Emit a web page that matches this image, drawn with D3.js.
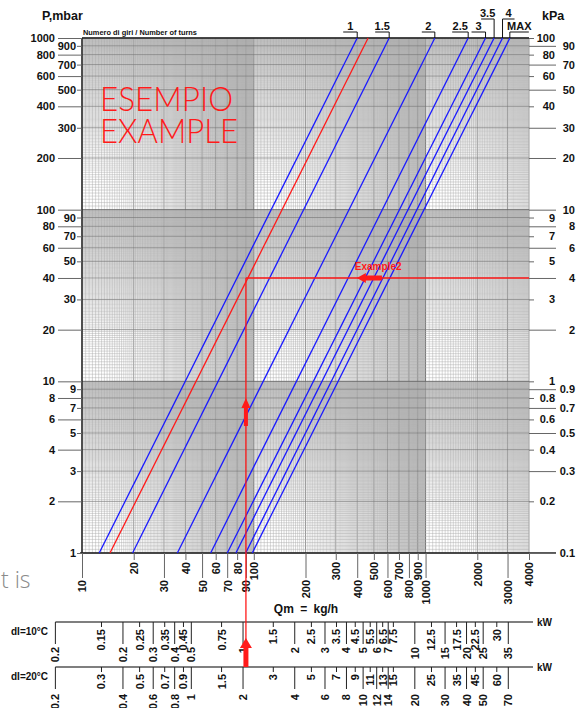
<!DOCTYPE html>
<html>
<head>
<meta charset="utf-8">
<script src="https://cdn.jsdelivr.net/npm/d3@7"></script>
<style>
html, body { margin: 0; padding: 0; background: #fff; }
svg { display: block; font-family: "Liberation Sans", Arial, sans-serif; }
</style>
</head>
<body>
<div id="chart"></div>
<script>
// valve curves: flow (kg/h) read where each line meets 1 mbar and 1000 mbar
var turns = ["1", "1.5", "2", "2.5", "3", "3.5", "4", "MAX"];
var flowAt1mbar = [12.6, 19.7, 35.9, 56.1, 70.1, 78.7, 89.7, 98.0];
var flowAt1000mbar = [400, 614, 1132, 1770, 2234, 2506, 2805, 3094];

// red example curve and the example point
var exampleFlowAt1mbar = 14.55;
var exampleFlowAt1000mbar = 463;
var exampleQ = 90;       // kg/h
var exampleP = 40;       // mbar
var exampleArrowP = [5.5, 8];        // up arrow inside the plot
var example2ArrowQ = [557, 398];     // left arrow on the 40 mbar line

// axis tick labels
var pOuter = [1000, 800, 600, 400, 200, 100, 80, 60, 40, 20, 10, 8, 6, 4, 2];
var pInner = [900, 700, 500, 300, 90, 70, 50, 30, 9, 7, 5, 3, 1];
var kpaOuter = [90, 70, 50, 30, 20, 10, 8, 6, 4, 2, 0.9, 0.7, 0.5, 0.3, 0.1];
var kpaInner = [100, 80, 60, 40, 9, 7, 5, 3, 1, 0.8, 0.6, 0.4, 0.2];
var qUpper = [20, 40, 60, 80, 100, 300, 500, 700, 900, 2000, 4000];
var qLower = [10, 30, 50, 70, 90, 200, 400, 600, 800, 1000, 3000];

// heat power scales (kW) for two temperature differences
var dtNames = ["dI=10°C", "dI=20°C"];
var dtValues = [10, 20];
var kwUpper = [
  [0.15, 0.25, 0.35, 0.45, 0.75, 1.5, 2.5, 3.5, 4.5, 5.5, 6.5, 7.5, 12.5, 17.5, 22.5, 30],
  [0.3, 0.5, 0.7, 0.9, 1.5, 3, 5, 7, 9, 11, 13, 15, 25, 35, 45, 60]
];
var kwLower = [
  [0.2, 0.3, 0.4, 0.5, 1, 2, 3, 4, 5, 6, 7, 10, 15, 20, 25, 35],
  [0.4, 0.6, 0.8, 1, 2, 4, 6, 8, 10, 12, 14, 20, 30, 40, 50, 70]
];
var kwStartLabel = "0.2";
var kwStartQ = 7;
var CP = 4.186 / 3600; // kWh per kg per K

// layout of the turn labels above the plot
var turnLabelLayout = {
  "1":   { row: 0, side: -1, w: 14 },
  "1.5": { row: 0, side: -1, w: 14 },
  "2":   { row: 0, side: -1, w: 13 },
  "2.5": { row: 0, side: -1, w: 16 },
  "3":   { row: 0, side: -1, w: 14 },
  "3.5": { row: 1, side: -1, w: 13 },
  "4":   { row: 1, side: 1,  w: 12 },
  "MAX": { row: 0, side: 1,  w: 19 }
};

var W = 576, H = 708;
var x = d3.scaleLog().domain([10, 4000]).range([82, 529]);
var y = d3.scaleLog().domain([1, 1000]).range([553, 38]);
var yk = d3.scaleLog().domain([0.1, 100]).range([553, 38]);

var svg = d3.select("#chart").append("svg")
  .attr("width", W)
  .attr("height", H);

// ---- log grid: 20 subdivisions per unit step of each decade
function gridValues(decades, max) {
  var out = [], seen = {};
  decades.forEach(function(d) {
    for (var i = 20; i <= 200; i++) {
      var v = +(d * i / 20).toPrecision(6);
      if (v > max || seen[v]) continue;
      seen[v] = true;
      out.push({ v: v, unit: i % 20 == 0, decade: i == 20 || i == 200 });
    }
  });
  return out;
}
var gxv = gridValues([10, 100, 1000], 4000);
var gyv = gridValues([1, 10, 100], 1000);

var grid = svg.append("g").attr("class", "grid");
function gridStyle(sel) {
  sel.attr("stroke", function(d) { return d.decade ? "#666" : d.unit ? "#808080" : "#aaaaaa"; })
    .attr("stroke-width", function(d) { return d.decade ? 0.9 : d.unit ? 0.8 : 0.45; });
}
grid.selectAll("line.gx")
  .data(gxv.filter(function(d) { return !d.unit; }).concat(gxv.filter(function(d) { return d.unit; })))
  .enter().append("line")
  .attr("x1", function(d) { return x(d.v); })
  .attr("x2", function(d) { return x(d.v); })
  .attr("y1", y(1000)).attr("y2", y(1))
  .call(gridStyle);
grid.selectAll("line.gy")
  .data(gyv.filter(function(d) { return !d.unit; }).concat(gyv.filter(function(d) { return d.unit; })))
  .enter().append("line")
  .attr("y1", function(d) { return y(d.v); })
  .attr("y2", function(d) { return y(d.v); })
  .attr("x1", x(10)).attr("x2", x(4000))
  .call(gridStyle);

// frame
svg.append("line").attr("x1", x(10)).attr("x2", x(10)).attr("y1", y(1000)).attr("y2", y(1))
  .attr("stroke", "#222").attr("stroke-width", 1.4);
svg.append("line").attr("x1", x(10) - 2).attr("x2", x(4000) + 27).attr("y1", y(1)).attr("y2", y(1))
  .attr("stroke", "#222").attr("stroke-width", 1.4);
svg.append("line").attr("x1", x(10)).attr("x2", x(4000)).attr("y1", y(1000)).attr("y2", y(1000))
  .attr("stroke", "#222").attr("stroke-width", 1.4);

// ---- axes
function styleAxis(g) {
  g.select(".domain").remove();
  g.selectAll(".tick line").attr("stroke", "#666").attr("stroke-width", 1);
  g.selectAll(".tick text").attr("fill", "#111").attr("font-size", 11).attr("font-weight", "bold");
}
var fmt = function(d) { return String(d); };

svg.append("g").attr("transform", "translate(" + x(10) + ",0)")
  .call(d3.axisLeft(y).tickValues(pOuter).tickSize(24).tickPadding(3).tickFormat(fmt))
  .call(styleAxis);
svg.append("g").attr("transform", "translate(" + x(10) + ",0)")
  .call(d3.axisLeft(y).tickValues(pInner).tickSize(5).tickPadding(1).tickFormat(fmt))
  .call(styleAxis);

svg.append("g").attr("transform", "translate(" + x(4000) + ",0)")
  .call(d3.axisRight(yk).tickValues(kpaOuter).tickSize(27).tickFormat(fmt))
  .call(styleAxis)
  .selectAll(".tick text").attr("text-anchor", "end").attr("x", 46);
svg.append("g").attr("transform", "translate(" + x(4000) + ",0)")
  .call(d3.axisRight(yk).tickValues(kpaInner).tickSize(5).tickFormat(fmt))
  .call(styleAxis)
  .selectAll(".tick text").attr("text-anchor", "end").attr("x", 26);

function rotateLabels(g, top) {
  g.selectAll(".tick text")
    .attr("transform", "rotate(-90)")
    .attr("text-anchor", "end")
    .attr("x", -top).attr("y", 0).attr("dy", "0.36em");
}
svg.append("g").attr("transform", "translate(0," + y(1) + ")")
  .call(d3.axisBottom(x).tickValues(qUpper).tickSize(7).tickFormat(fmt))
  .call(styleAxis).call(rotateLabels, 9);
svg.append("g").attr("transform", "translate(0," + y(1) + ")")
  .call(d3.axisBottom(x).tickValues(qLower).tickSize(25).tickFormat(fmt))
  .call(styleAxis).call(rotateLabels, 27);

// ---- valve curves
var curves = turns.map(function(t, i) {
  return { name: t, pts: [[flowAt1mbar[i], 1], [flowAt1000mbar[i], 1000]] };
});
var line = d3.line().x(function(d) { return x(d[0]); }).y(function(d) { return y(d[1]); });

svg.append("g").selectAll("path")
  .data(curves)
  .enter().append("path")
  .attr("d", function(d) { return line(d.pts); })
  .attr("fill", "none")
  .attr("stroke", "#1a1aff")
  .attr("stroke-width", 1.3);

// turn labels with their brackets
var tl = svg.append("g").selectAll("g")
  .data(curves)
  .enter().append("g");
tl.append("path")
  .attr("d", function(d) {
    var L = turnLabelLayout[d.name], xt = x(d.pts[1][0]), yb = L.row ? 19 : 32;
    return "M" + (xt + L.side * L.w) + "," + yb + "H" + xt + "V" + y(1000);
  })
  .attr("fill", "none").attr("stroke", "#111").attr("stroke-width", 1);
tl.append("text")
  .attr("x", function(d) { var L = turnLabelLayout[d.name]; return x(d.pts[1][0]) + L.side * L.w / 2; })
  .attr("y", function(d) { return turnLabelLayout[d.name].row ? 17 : 30; })
  .attr("text-anchor", "middle")
  .attr("font-size", 11).attr("font-weight", "bold").attr("fill", "#111")
  .text(function(d) { return d.name; });

// ---- heat power scales
var kwTop = [622, 667];
dtValues.forEach(function(dt, r) {
  var kw = d3.scaleLog().domain([10 * dt * CP, 4000 * dt * CP]).range(x.range());
  var g = svg.append("g").attr("transform", "translate(0," + kwTop[r] + ")");
  g.append("line").attr("x1", x(kwStartQ)).attr("x2", 533).attr("y1", 0).attr("y2", 0)
    .attr("stroke", "#555").attr("stroke-width", 1.6);
  g.append("g").call(d3.axisBottom(kw).tickValues(kwUpper[r]).tickSize(5).tickFormat(fmt))
    .call(styleAxis).call(rotateLabels, 7);
  g.append("g").call(d3.axisBottom(kw).tickValues(kwLower[r]).tickSize(22).tickFormat(fmt))
    .call(styleAxis).call(rotateLabels, 25 + r * 2);
  g.selectAll(".tick line").attr("stroke", "#222");
  // first label at the left end of the scale
  g.append("line").attr("x1", x(kwStartQ)).attr("x2", x(kwStartQ)).attr("y1", 0).attr("y2", 22)
    .attr("stroke", "#222");
  g.append("text").attr("transform", "translate(" + x(kwStartQ) + ",0) rotate(-90)")
    .attr("x", -(25 + r * 2)).attr("dy", "0.36em").attr("text-anchor", "end")
    .attr("font-size", 11).attr("font-weight", "bold").attr("fill", "#111")
    .text(kwStartLabel);
  g.append("text").attr("x", 537).attr("y", 4)
    .attr("font-size", 10).attr("font-weight", "bold").attr("fill", "#111").text("kW");
  g.append("text").attr("x", 11).attr("y", 13)
    .attr("font-size", 10).attr("font-weight", "bold").attr("fill", "#111").text(dtNames[r]);
});

// ---- example (red)
var red = "#ff1a1a";
svg.append("path")
  .attr("d", line([[exampleFlowAt1mbar, 1], [exampleFlowAt1000mbar, 1000]]))
  .attr("fill", "none").attr("stroke", red).attr("stroke-width", 1.3);
svg.append("line").attr("x1", x(exampleQ)).attr("x2", x(4000))
  .attr("y1", y(exampleP)).attr("y2", y(exampleP))
  .attr("stroke", red).attr("stroke-width", 1.3);
svg.append("line").attr("x1", x(exampleQ)).attr("x2", x(exampleQ))
  .attr("y1", y(exampleP)).attr("y2", kwTop[1])
  .attr("stroke", red).attr("stroke-width", 1.3);

function arrow(x1, y1, x2, y2, head, hw, sw) {
  var dx = x2 - x1, dy = y2 - y1, len = Math.sqrt(dx * dx + dy * dy);
  var ux = dx / len, uy = dy / len, nx = -uy, ny = ux;
  var bx = x2 - ux * head, by = y2 - uy * head;
  var p = [
    [x1 + nx * sw, y1 + ny * sw], [bx + nx * sw, by + ny * sw], [bx + nx * hw, by + ny * hw],
    [x2, y2],
    [bx - nx * hw, by - ny * hw], [bx - nx * sw, by - ny * sw], [x1 - nx * sw, y1 - ny * sw]
  ];
  return "M" + p.join("L") + "Z";
}
svg.append("path")
  .attr("d", arrow(x(exampleQ), y(exampleArrowP[0]), x(exampleQ), y(exampleArrowP[1]), 10, 4.5, 2))
  .attr("fill", red);
svg.append("path")
  .attr("d", arrow(x(exampleQ), kwTop[1], x(exampleQ), kwTop[0] + 16, 10, 6, 2.5))
  .attr("fill", red);
svg.append("path")
  .attr("d", arrow(x(example2ArrowQ[0]), y(exampleP), x(example2ArrowQ[1]), y(exampleP), 9, 5, 2.5))
  .attr("fill", red);
svg.append("text").attr("x", x(example2ArrowQ[1]) - 2).attr("y", y(exampleP) - 8)
  .attr("font-size", 10).attr("font-weight", "bold").attr("fill", red).text("Example2");

svg.append("text").attr("x", 100).attr("y", 111)
  .attr("textLength", 133).attr("lengthAdjust", "spacingAndGlyphs")
  .attr("font-family", "Lato, 'DejaVu Sans', sans-serif").attr("font-weight", 300)
  .attr("font-size", 34).attr("fill", red).text("ESEMPIO");
svg.append("text").attr("x", 100).attr("y", 143)
  .attr("textLength", 138).attr("lengthAdjust", "spacingAndGlyphs")
  .attr("font-family", "Lato, 'DejaVu Sans', sans-serif").attr("font-weight", 300)
  .attr("font-size", 34).attr("fill", red).text("EXAMPLE");

// ---- titles
svg.append("text").attr("x", 42).attr("y", 20)
  .attr("font-size", 12.5).attr("font-weight", "bold").attr("fill", "#111").text("P,mbar");
svg.append("text").attr("x", 542).attr("y", 20)
  .attr("font-size", 12.5).attr("font-weight", "bold").attr("fill", "#111").text("kPa");
svg.append("text").attr("x", 83).attr("y", 35)
  .attr("textLength", 114).attr("lengthAdjust", "spacingAndGlyphs")
  .attr("font-size", 6.5).attr("font-weight", "bold").attr("fill", "#111")
  .text("Numero di giri / Number of turns");
svg.append("text").attr("x", 306).attr("y", 613).attr("text-anchor", "middle")
  .attr("font-size", 12).attr("font-weight", "bold").attr("word-spacing", 3).attr("fill", "#111")
  .text("Qm = kg/h");

svg.append("text").attr("x", 1).attr("y", 588)
  .attr("font-family", "'Open Sans', sans-serif").attr("font-weight", 300)
  .attr("font-size", 23).attr("fill", "#8a8a8a").text("t is");
</script>
</body>
</html>
